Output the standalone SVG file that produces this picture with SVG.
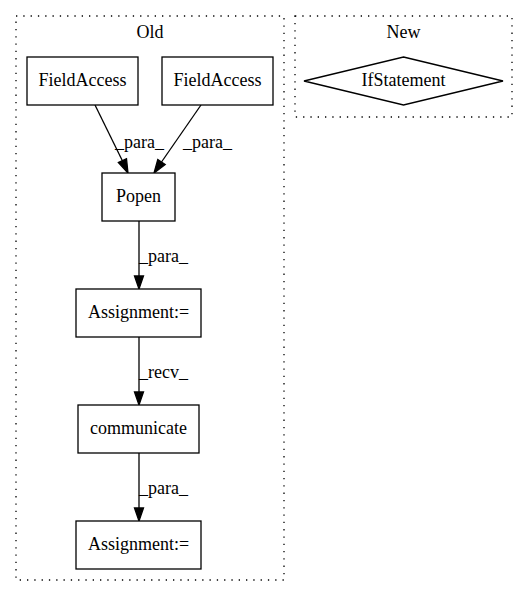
<svg xmlns="http://www.w3.org/2000/svg" width="529" height="596" viewBox="0 0 529 596">
<style>
text{font-family:"Liberation Serif","Times New Roman",serif;font-size:18px;fill:#000}
.c{text-anchor:middle}
.n{fill:#fff;stroke:#000;stroke-width:1.3}
.cl{fill:none;stroke:#000;stroke-width:1.3;stroke-dasharray:1.3,6}
.e{fill:none;stroke:#000;stroke-width:1.3}
.ah{fill:#000;stroke:#000;stroke-width:1.3}
</style>
<rect width="529" height="596" fill="#fff"/>
<g id="cluster_old">
<rect class="cl" x="16" y="16" width="268" height="564"/>
<text class="c" x="150" y="38">Old</text>
</g>
<g id="cluster_new">
<rect class="cl" x="295" y="16" width="217" height="101"/>
<text class="c" x="403.5" y="38">New</text>
</g>
<g id="connectors">
<path class="e" d="M95,105 L122.5,161"/>
<polygon class="ah" points="118.4,162.5 128,173 126.5,158.8"/>
<text x="115" y="148">_para_</text>
<path class="e" d="M201,105 L161.5,162"/>
<polygon class="ah" points="157.8,159.5 154,173 165.2,164.5"/>
<text x="183" y="148">_para_</text>
<path class="e" d="M139,221 L139,276"/>
<polygon class="ah" points="134.5,276 139,289 143.5,276"/>
<text x="139" y="262">_para_</text>
<path class="e" d="M139,337 L139,392"/>
<polygon class="ah" points="134.5,392 139,405 143.5,392"/>
<text x="139" y="378">_recv_</text>
<path class="e" d="M139,453 L139,508"/>
<polygon class="ah" points="134.5,508 139,521 143.5,508"/>
<text x="139" y="494">_para_</text>
</g>
<g id="fieldaccess1">
<rect class="n" x="27" y="57" width="111" height="48"/>
<text class="c" x="82.5" y="86">FieldAccess</text>
</g>
<g id="fieldaccess2">
<rect class="n" x="162" y="57" width="111" height="48"/>
<text class="c" x="217.5" y="86">FieldAccess</text>
</g>
<g id="popen">
<rect class="n" x="102" y="173" width="73" height="48"/>
<text class="c" x="138.5" y="202">Popen</text>
</g>
<g id="assignment1">
<rect class="n" x="76" y="289" width="125" height="48"/>
<text class="c" x="138.5" y="318">Assignment:=</text>
</g>
<g id="communicate">
<rect class="n" x="78" y="405" width="121" height="48"/>
<text class="c" x="138.5" y="434">communicate</text>
</g>
<g id="assignment2">
<rect class="n" x="76" y="521" width="125" height="48"/>
<text class="c" x="138.5" y="550">Assignment:=</text>
</g>
<g id="ifstatement">
<polygon class="n" points="403.5,57 503,81 403.5,105 304,81"/>
<text class="c" x="403.5" y="86">IfStatement</text>
</g>
</svg>
